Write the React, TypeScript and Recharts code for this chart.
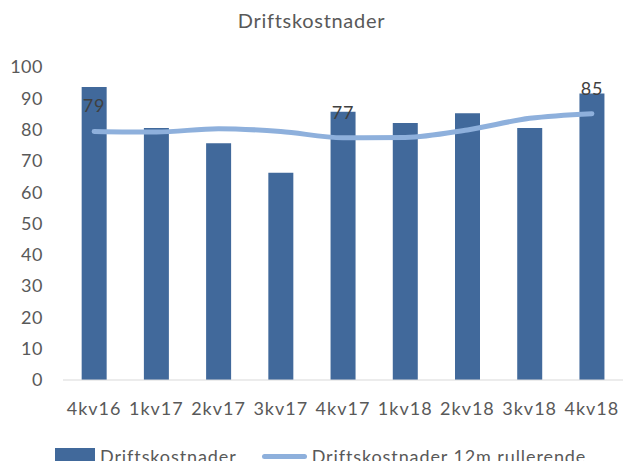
import { Bar, ComposedChart, Legend, Line, XAxis, YAxis } from "recharts";

const quarters = ["4kv16", "1kv17", "2kv17", "3kv17", "4kv17", "1kv18", "2kv18", "3kv18", "4kv18"];
const costs = [93.6, 80.5, 75.6, 66.2, 85.7, 82.1, 85.2, 80.5, 91.5];
const rolling = [79.4, 79.2, 80.3, 79.4, 77.4, 77.5, 79.9, 83.6, 85.1];
const labelledQuarters = ["4kv16", "4kv17", "4kv18"];
const yTicks = [0, 10, 20, 30, 40, 50, 60, 70, 80, 90, 100];

const data = quarters.map((q, i) => ({ q, cost: costs[i], rolling: rolling[i] }));

const FONT = "Lato, 'Noto Sans', sans-serif";
const BAR = "#41699b";
const LINE = "#8eb0dc";
const TEXT = "#595959";

type LabelProps = { x?: number; y?: number; value?: number; index?: number };

function RollingLabel({ x = 0, y = 0, value = 0, index = 0 }: LabelProps) {
  if (!labelledQuarters.includes(quarters[index])) return null;
  return (
    <text x={x} y={y - 26} textAnchor="middle" dominantBaseline="central" fill="#404040" fontSize={18} letterSpacing={0.8} fontFamily={FONT}>
      {Math.round(value)}
    </text>
  );
}

function LegendRow() {
  return (
    <div style={{ display: "flex", alignItems: "center", paddingTop: 20, paddingLeft: 47, fontFamily: FONT, fontSize: 18, letterSpacing: 0.9, color: TEXT, whiteSpace: "nowrap" }}>
      <span style={{ width: 40, height: 16, background: BAR, marginRight: 5 }} />
      <span style={{ marginRight: 25 }}>Driftskostnader</span>
      <span style={{ width: 45, height: 5, borderRadius: 3, background: LINE, marginRight: 5 }} />
      <span>Driftskostnader 12m rullerende</span>
    </div>
  );
}

export default function App() {
  return (
    <div style={{ position: "absolute", left: 0, top: 0, width: 623, height: 461, background: "#fff", overflow: "hidden" }}>
      <div style={{ position: "absolute", top: 8, width: 623, textAlign: "center", fontFamily: FONT, fontSize: 20, letterSpacing: 0.7, color: TEXT }}>
        Driftskostnader
      </div>
      <ComposedChart width={623} height={461} data={data} margin={{ top: 67, right: 0, bottom: 0, left: 8 }} barCategoryGap="30%">
        <XAxis
          dataKey="q"
          stroke="#d9d9d9"
          tickLine={false}
          tickSize={0}
          tickMargin={22}
          height={45}
          interval={0}
          tick={{ fill: TEXT, fontSize: 18, fontFamily: FONT, letterSpacing: 1 }}
        />
        <YAxis
          domain={[0, 100]}
          ticks={yTicks}
          axisLine={false}
          tickLine={false}
          tickSize={0}
          tickMargin={20}
          width={55}
          tick={{ fill: TEXT, fontSize: 18, fontFamily: FONT, letterSpacing: 0.5 }}
        />
        <Legend verticalAlign="bottom" height={36} content={<LegendRow />} />
        <Bar dataKey="cost" name="Driftskostnader" fill={BAR} isAnimationActive={false} />
        <Line
          dataKey="rolling"
          name="Driftskostnader 12m rullerende"
          type="monotone"
          stroke={LINE}
          strokeWidth={5}
          strokeLinecap="round"
          dot={false}
          activeDot={false}
          isAnimationActive={false}
          label={<RollingLabel />}
        />
      </ComposedChart>
    </div>
  );
}
